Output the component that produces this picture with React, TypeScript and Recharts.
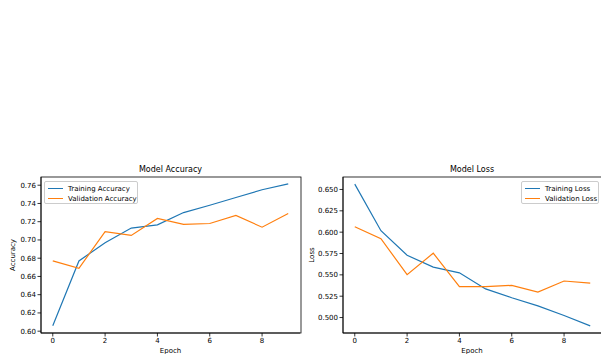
import React from "react";
import { LineChart, Line, XAxis, YAxis } from "recharts";

const epochs = [0, 1, 2, 3, 4, 5, 6, 7, 8, 9];
const trainAcc = [0.606, 0.677, 0.697, 0.713, 0.7165, 0.730, 0.738, 0.7465, 0.755, 0.7615];
const valAcc = [0.677, 0.669, 0.709, 0.705, 0.7235, 0.717, 0.718, 0.7268, 0.714, 0.729];
const trainLoss = [0.6563, 0.6017, 0.573, 0.559, 0.5524, 0.5335, 0.5232, 0.5137, 0.5024, 0.4902];
const valLoss = [0.6064, 0.5923, 0.5503, 0.5754, 0.5361, 0.5361, 0.5377, 0.5298, 0.5428, 0.5404];
const xTicks = [0, 2, 4, 6, 8];
const accTicks = [0.6, 0.62, 0.64, 0.66, 0.68, 0.7, 0.72, 0.74, 0.76];
const lossTicks = [0.5, 0.525, 0.55, 0.575, 0.6, 0.625, 0.65];

const BLUE = "#1f77b4";
const ORANGE = "#ff7f0e";
const FONT = "'DejaVu Sans', sans-serif";

const accData = epochs.map((e, i) => ({ epoch: e, train: trainAcc[i], val: valAcc[i] }));
const lossData = epochs.map((e, i) => ({ epoch: e, train: trainLoss[i], val: valLoss[i] }));

const tickStyle = { fontSize: 7, fill: "#000", fontFamily: FONT };

const txt = (left: number, top: number, text: string, size: number, rotate = false) => (
  <div
    style={{
      position: "absolute",
      left,
      top,
      transform: `translate(-50%, -50%)${rotate ? " rotate(-90deg)" : ""}`,
      fontSize: size,
      fontFamily: FONT,
      whiteSpace: "nowrap",
      color: "#000",
      lineHeight: 1,
    }}
  >
    {text}
  </div>
);

const legendBox = (left: number, width: number, labels: string[]) => (
  <div
    style={{
      position: "absolute",
      left,
      top: 181,
      width,
      height: 23,
      border: "1px solid #ccc",
      borderRadius: 2,
      background: "rgba(255,255,255,0.8)",
      boxSizing: "border-box",
      fontFamily: FONT,
      fontSize: 7,
    }}
  >
    {labels.map((l, i) => (
      <div key={l} style={{ position: "absolute", left: 3, top: 2 + i * 10, height: 9, display: "flex", alignItems: "center" }}>
        <div style={{ width: 15, height: 1.3, background: i === 0 ? BLUE : ORANGE, marginRight: 5 }} />
        <span>{l}</span>
      </div>
    ))}
  </div>
);

const Panel = ({ data, domain, ticks, fmt }: any) => (
  <LineChart width={301} height={194} data={data} margin={{ top: 17, right: 1, bottom: 0, left: 0 }}>
    <XAxis
      dataKey="epoch"
      type="number"
      domain={[-0.45, 9.45]}
      ticks={xTicks}
      allowDataOverflow
      height={21}
      tickSize={3.5}
      tickMargin={1.5}
      tick={tickStyle}
      stroke="#000"
      axisLine={{ stroke: "#000", strokeWidth: 0.8 }}
      tickLine={{ stroke: "#000", strokeWidth: 0.8 }}
    />
    <YAxis
      type="number"
      domain={domain}
      ticks={ticks}
      allowDataOverflow
      width={41}
      tickSize={3.5}
      tickMargin={1.5}
      tick={tickStyle}
      tickFormatter={fmt}
      stroke="#000"
      axisLine={{ stroke: "#000", strokeWidth: 0.8 }}
      tickLine={{ stroke: "#000", strokeWidth: 0.8 }}
    />
    <Line dataKey="train" stroke={BLUE} strokeWidth={1.2} dot={false} isAnimationActive={false} />
    <Line dataKey="val" stroke={ORANGE} strokeWidth={1.2} dot={false} isAnimationActive={false} />
  </LineChart>
);

export default function App() {
  return (
    <div style={{ position: "absolute", left: 0, top: 0, width: 601, height: 354, background: "#fff", overflow: "hidden" }}>
      <div style={{ position: "absolute", left: 0, top: 160 }}>
        <Panel data={accData} domain={[0.598, 0.769]} ticks={accTicks} fmt={(v: number) => v.toFixed(2)} />
      </div>
      <div style={{ position: "absolute", left: 302, top: 160 }}>
        <Panel data={lossData} domain={[0.4819, 0.6646]} ticks={lossTicks} fmt={(v: number) => v.toFixed(3)} />
      </div>
      <svg width={601} height={354} style={{ position: "absolute", left: 0, top: 0, pointerEvents: "none" }}>
        <rect x={41} y={177} width={260} height={156} fill="none" stroke="#000" strokeWidth={0.8} />
        <rect x={343} y={177} width={260} height={156} fill="none" stroke="#000" strokeWidth={0.8} />
      </svg>
      {txt(170.5, 170, "Model Accuracy", 8)}
      {txt(472, 170, "Model Loss", 8)}
      {txt(170.5, 351, "Epoch", 7)}
      {txt(472, 351, "Epoch", 7)}
      {txt(13, 255, "Accuracy", 7, true)}
      {txt(312, 255, "Loss", 7, true)}
      {legendBox(44, 94, ["Training Accuracy", "Validation Accuracy"])}
      {legendBox(521, 78, ["Training Loss", "Validation Loss"])}
    </div>
  );
}
